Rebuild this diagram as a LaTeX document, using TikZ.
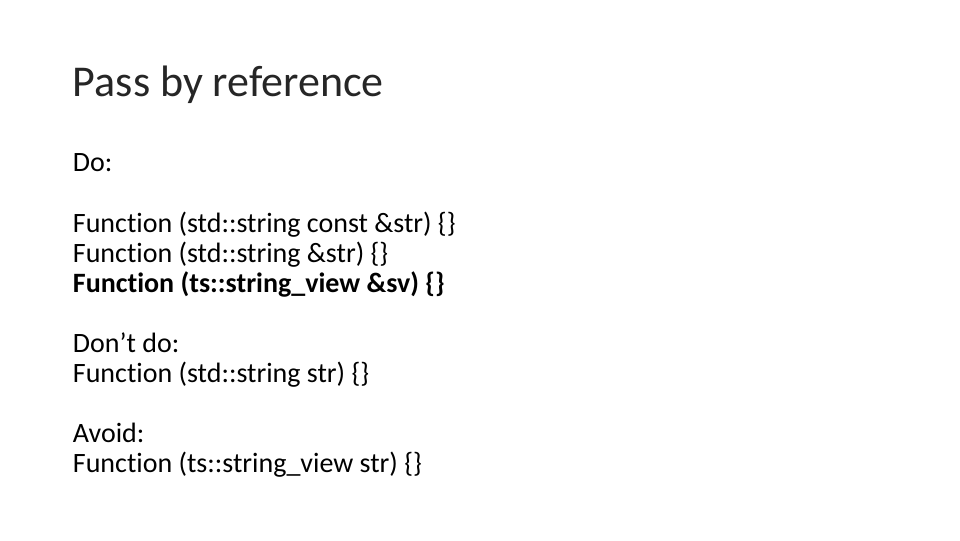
\documentclass[tikz,border=0pt]{standalone}
\usepackage{fontspec}
\setmainfont{Carlito}[Ligatures={NoCommon}]
\usetikzlibrary{positioning}
\definecolor{slidetext}{HTML}{000000}
\definecolor{titletext}{HTML}{262626}

\begin{document}
\begin{tikzpicture}
    [x=1pt, y=1pt,
    line/.style={anchor=base west,
                 inner sep=0pt,
                 text=slidetext,
                 font=\fontsize{21}{25}\selectfont},
    title/.style={anchor=base west,
                  inner sep=0pt,
                  text=titletext,
                  font=\fontsize{33}{38}\selectfont}]
    \useasboundingbox (0,0) rectangle (720,405);
    \node[title] (Title) at (54.5,332.5) {Pass by reference};
    \node[line] (Do) at (54.5,276) {Do:};
    \node[line] (DoA) at (54.5,231) {Function (std::string const \&str) \{\}};
    \node[line] (DoB) at (54.5,208.5) {Function (std::string \&str) \{\}};
    \node[line, font=\fontsize{21}{25}\selectfont\bfseries] (DoC) at (54.5,186) {Function (ts::string\_view \&sv) \{\}};
    \node[line] (Dont) at (54.5,141) {Don’t do:};
    \node[line] (DontA) at (54.5,118.5) {Function (std::string str) \{\}};
    \node[line] (Avoid) at (54.5,73.5) {Avoid:};
    \node[line] (AvoidA) at (54.5,51) {Function (ts::string\_view str) \{\}};
\end{tikzpicture}
\end{document}
